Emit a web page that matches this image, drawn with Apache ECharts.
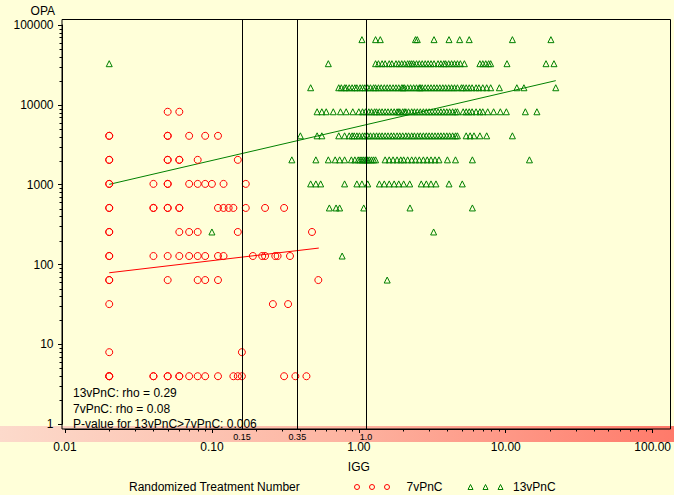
<!DOCTYPE html>
<html><head><meta charset="utf-8">
<script src="https://cdn.jsdelivr.net/npm/echarts@6/dist/echarts.min.js"></script>
<style>html,body{margin:0;padding:0;background:#ffffd9;}#c{width:674px;height:495px;}</style>
</head><body><div id="c"></div>
<script>
// OPA titre levels (y values), shared by the per-level IGG lists below
const opaLevels = [4, 8, 32, 64, 128, 256, 512, 1024, 2048, 4096, 8192, 16384, 32768, 65536];

// 7vPnC: IGG values at each OPA level (same order as opaLevels)
const igg7v = [
  [0.02, 0.02, 0.02, 0.04, 0.04, 0.05, 0.05, 0.06, 0.06, 0.07, 0.08, 0.09, 0.11, 0.14, 0.15, 0.16, 0.31, 0.37, 0.44],
  [0.02, 0.16],
  [0.02, 0.26, 0.33],
  [0.02, 0.02, 0.05, 0.08, 0.09, 0.11, 0.53],
  [0.02, 0.02, 0.04, 0.05, 0.06, 0.07, 0.08, 0.09, 0.11, 0.12, 0.19, 0.22, 0.23, 0.27, 0.28, 0.34],
  [0.02, 0.02, 0.06, 0.07, 0.08, 0.15, 0.48],
  [0.02, 0.02, 0.04, 0.04, 0.05, 0.05, 0.06, 0.06, 0.11, 0.12, 0.13, 0.14, 0.17, 0.23, 0.31],
  [0.02, 0.02, 0.04, 0.05, 0.05, 0.07, 0.08, 0.09, 0.10, 0.12, 0.17],
  [0.02, 0.02, 0.05, 0.05, 0.06, 0.06, 0.08, 0.15],
  [0.02, 0.02, 0.05, 0.05, 0.07, 0.09, 0.11],
  [0.05, 0.06],
  [],
  [],
  []
];

// 13vPnC: IGG values at each OPA level (same order as opaLevels)
const igg13v = [
  [],
  [],
  [],
  [1.56],
  [0.77],
  [0.10, 3.23],
  [0.63, 0.70, 0.74, 1.08, 2.23, 5.93],
  [0.47, 0.51, 0.55, 0.80, 0.97, 1.05, 1.15, 1.38, 1.49, 1.61, 1.74, 1.87, 2.02, 2.22, 2.66, 2.88, 3.10, 3.35, 4.11, 5.06],
  [0.35, 0.51, 0.62, 0.69, 0.74, 0.80, 0.89, 0.94, 0.99, 1.02, 1.05, 1.08, 1.11, 1.13, 1.15, 1.18, 1.22, 1.26, 1.30, 1.51, 1.61, 1.71, 1.82, 1.93, 2.02, 2.15, 2.29, 2.43, 2.58, 2.75, 2.92, 3.10, 3.30, 3.51, 4.01, 4.55, 5.93, 14.5],
  [0.40, 0.52, 0.56, 0.73, 0.80, 0.86, 0.90, 0.93, 0.97, 1.01, 1.06, 1.10, 1.15, 1.20, 1.26, 1.32, 1.38, 1.44, 1.51, 1.58, 1.66, 1.73, 1.82, 1.90, 1.99, 2.09, 2.18, 2.29, 2.39, 2.51, 2.62, 2.75, 2.88, 3.01, 3.15, 3.30, 3.46, 3.62, 3.79, 3.97, 4.15, 4.35, 4.55, 4.69, 5.38, 5.72, 6.08, 6.67, 7.42, 11.1],
  [0.52, 0.56, 0.60, 0.67, 0.75, 0.82, 0.91, 1.00, 1.06, 1.11, 1.17, 1.22, 1.28, 1.32, 1.38, 1.44, 1.51, 1.58, 1.66, 1.74, 1.82, 1.86, 1.90, 1.99, 2.05, 2.09, 2.18, 2.29, 2.39, 2.50, 2.62, 2.75, 2.88, 3.01, 3.15, 3.30, 3.46, 3.62, 3.79, 3.97, 4.15, 4.35, 4.55, 4.69, 5.13, 5.38, 5.64, 5.90, 6.28, 6.67, 6.98, 7.54, 8.27, 9.19, 10.1, 13.6, 16.3],
  [0.47, 0.73, 0.76, 0.80, 0.82, 0.86, 0.90, 0.94, 0.97, 1.02, 1.06, 1.10, 1.15, 1.20, 1.26, 1.30, 1.36, 1.42, 1.49, 1.56, 1.63, 1.71, 1.79, 1.87, 1.96, 2.00, 2.05, 2.15, 2.25, 2.36, 2.47, 2.58, 2.62, 2.70, 2.83, 2.96, 3.10, 3.25, 3.40, 3.56, 3.73, 3.90, 4.09, 4.28, 4.48, 4.69, 4.99, 5.14, 5.38, 5.64, 5.90, 6.28, 6.57, 6.98, 7.42, 7.90, 9.05, 11.9, 13.3, 21.9],
  [0.02, 0.62, 1.30, 1.36, 1.44, 1.51, 1.61, 1.68, 1.79, 1.87, 1.96, 2.05, 2.15, 2.22, 2.29, 2.36, 2.47, 2.58, 2.70, 2.83, 2.96, 3.10, 3.25, 3.46, 3.62, 3.79, 3.90, 4.09, 4.28, 4.48, 4.69, 4.91, 5.23, 6.67, 6.98, 7.31, 7.65, 7.90, 10.2, 18.8, 21.3],
  [1.05, 1.30, 1.40, 2.43, 2.50, 3.25, 4.11, 4.86, 5.64, 11.1, 20.3]
];

// fitted regression lines (log-log), end points
const fit7v = [[0.02, 79], [0.534, 161]];
const fit13v = [[0.02, 1010], [21.9, 20100]];

// reference cut-off lines on IGG
const cutoffValues = [0.15, 0.35, 1.0];
const cutoffLabels = ['0.15', '0.35', '1.0'];

// log-axis minor tick positions
const xMinorTicks = [0.02, 0.03, 0.04, 0.05, 0.06, 0.07, 0.08, 0.09,
                     0.2, 0.3, 0.4, 0.5, 0.6, 0.7, 0.8, 0.9,
                     2, 3, 4, 5, 6, 7, 8, 9,
                     20, 30, 40, 50, 60, 70, 80, 90];
const yMinorTicks = [2, 3, 4, 5, 6, 7, 8, 9,
                     20, 30, 40, 50, 60, 70, 80, 90,
                     200, 300, 400, 500, 600, 700, 800, 900,
                     2000, 3000, 4000, 5000, 6000, 7000, 8000, 9000,
                     20000, 30000, 40000, 50000, 60000, 70000, 80000, 90000];

const annotations = ['13vPnC: rho = 0.29', '7vPnC: rho = 0.08', 'P-value for 13vPnC>7vPnC: 0.006'];
const legendTitle = 'Randomized Treatment Number';
const seriesNames = ['7vPnC', '13vPnC'];
const xName = 'IGG';
const yName = 'OPA';

function toPairs(rows) {
  const out = [];
  rows.forEach((xs, i) => xs.forEach(x => out.push([x, opaLevels[i]])));
  return out;
}

const FONT = "'Liberation Sans', Arial, sans-serif";
const RED = '#ff0000', GREEN = '#008000';
const X_OFF = 4.7, Y_OFF = 3, MINOR_LEN = 2.5;
const circlesIcon = 'path://M0,2.5a2.5,2.5 0 1,0 5,0a2.5,2.5 0 1,0 -5,0M15,2.5a2.5,2.5 0 1,0 5,0a2.5,2.5 0 1,0 -5,0M30,2.5a2.5,2.5 0 1,0 5,0a2.5,2.5 0 1,0 -5,0';
const trianglesIcon = 'path://M2.5,0L5,5L0,5ZM17.5,0L20,5L15,5ZM32.5,0L35,5L30,5Z';
const annTops = [387, 403, 418];

const chart = echarts.init(document.getElementById('c'), null, {renderer: 'svg'});
chart.setOption({
  animation: false,
  backgroundColor: '#ffffd9',
  textStyle: {fontFamily: FONT},
  title: [{text: legendTitle, left: 129, top: 481}]
    .concat(annotations.map((t, i) => ({text: t, left: 73, top: annTops[i]})))
    .map(t => Object.assign(t, {padding: 0, textStyle: {fontSize: 12, fontWeight: 'normal', color: '#000', fontFamily: FONT}})),
  graphic: [{
    type: 'rect', left: 0, top: 426, z: -1, silent: true,
    shape: {width: 674, height: 16},
    style: {fill: new echarts.graphic.LinearGradient(0, 0, 1, 0, [
      {offset: 0, color: '#fcdacb'}, {offset: 0.5, color: '#fdb5a2'}, {offset: 1, color: '#ff7a6a'}])}
  }],
  legend: {
    left: 354, top: 481, padding: 0, itemGap: 25, itemWidth: 35, itemHeight: 5, selectedMode: false,
    textStyle: {fontSize: 12, color: '#000', fontFamily: FONT},
    data: [
      {name: seriesNames[0], icon: circlesIcon, itemStyle: {color: 'rgba(0,0,0,0)', borderColor: RED, borderWidth: 1}, textStyle: {padding: [0, 0, 0, 12]}},
      {name: seriesNames[1], icon: trianglesIcon, itemStyle: {color: 'rgba(0,0,0,0)', borderColor: GREEN, borderWidth: 1}, textStyle: {padding: [0, 0, 0, 5]}}
    ]
  },
  grid: [
    {left: 65, right: 7, top: 25, bottom: 70.7},
    {left: 62, right: 3.5, top: 19.5, bottom: 66, show: true, borderColor: '#000', borderWidth: 1, backgroundColor: 'rgba(0,0,0,0)'}
  ],
  xAxis: [
    {type: 'log', gridIndex: 0, min: 0.01, max: 100, offset: X_OFF,
     axisLine: {show: true, lineStyle: {color: '#000', width: 1}},
     axisTick: {show: true, length: 4, lineStyle: {color: '#000'}},
     minorTick: {show: false},
     splitLine: {show: false},
     axisLabel: {margin: 12, fontSize: 12, color: '#000', fontFamily: FONT, formatter: v => Number(v).toFixed(2)},
     name: xName, nameLocation: 'middle', nameGap: 32, nameTextStyle: {fontSize: 12, color: '#000', fontFamily: FONT}},
    {type: 'log', gridIndex: 1, min: 0.009551, max: 105.5, show: false}
  ],
  yAxis: [
    {type: 'log', gridIndex: 0, min: 1, max: 100000, offset: Y_OFF,
     axisLine: {show: true, lineStyle: {color: '#000', width: 1}},
     axisTick: {show: true, length: 4, lineStyle: {color: '#000'}},
     minorTick: {show: false},
     splitLine: {show: false},
     axisLabel: {margin: 8.5, fontSize: 12, lineHeight: 10, color: '#000', fontFamily: FONT, formatter: v => String(Math.round(v))},
     name: yName, nameLocation: 'end', nameGap: 9.5,
     nameTextStyle: {fontSize: 12, lineHeight: 10, color: '#000', fontFamily: FONT, align: 'right', padding: [0, 7, 0, 0]}},
    {type: 'value', gridIndex: 1, min: 0, max: 1, show: false}
  ],
  series: [
    {name: seriesNames[0], type: 'scatter', xAxisIndex: 0, yAxisIndex: 0, data: toPairs(igg7v),
     symbol: 'circle', symbolSize: 7, z: 4,
     itemStyle: {color: 'rgba(0,0,0,0)', borderColor: RED, borderWidth: 1, opacity: 1}},
    {name: seriesNames[1], type: 'scatter', xAxisIndex: 0, yAxisIndex: 0, data: toPairs(igg13v),
     symbol: 'triangle', symbolSize: 6, z: 4,
     itemStyle: {color: 'rgba(0,0,0,0)', borderColor: GREEN, borderWidth: 1, opacity: 1}},
    {name: 'fit7v', type: 'line', xAxisIndex: 0, yAxisIndex: 0, data: fit7v, symbol: 'none', silent: true, z: 3,
     lineStyle: {color: RED, width: 1}},
    {name: 'fit13v', type: 'line', xAxisIndex: 0, yAxisIndex: 0, data: fit13v, symbol: 'none', silent: true, z: 3,
     lineStyle: {color: GREEN, width: 1}},
    {name: 'xMinor', type: 'custom', xAxisIndex: 0, yAxisIndex: 0, silent: true, clip: false, z: 3,
     data: xMinorTicks.map(v => [v, 1]),
     renderItem: (params, api) => {
       const p = api.coord([api.value(0), api.value(1)]);
       const x = Math.round(p[0]) + 0.5, y = p[1] + X_OFF;
       return {type: 'line', shape: {x1: x, y1: y, x2: x, y2: y + MINOR_LEN}, style: {stroke: '#000', lineWidth: 1}};
     }},
    {name: 'yMinor', type: 'custom', xAxisIndex: 0, yAxisIndex: 0, silent: true, clip: false, z: 3,
     data: yMinorTicks.map(v => [0.01, v]),
     renderItem: (params, api) => {
       const p = api.coord([api.value(0), api.value(1)]);
       const x = p[0] - Y_OFF, y = Math.round(p[1]) + 0.5;
       return {type: 'line', shape: {x1: x, y1: y, x2: x - MINOR_LEN, y2: y}, style: {stroke: '#000', lineWidth: 1}};
     }},
    {name: 'cutoffs', type: 'line', xAxisIndex: 1, yAxisIndex: 1, data: [], silent: true,
     markLine: {silent: true, symbol: 'none', animation: false,
       lineStyle: {color: '#000', width: 1, type: 'solid'},
       label: {show: true, position: 'start', distance: 3, formatter: '{b}', fontSize: 9, color: '#000', fontFamily: FONT},
       data: cutoffValues.map((v, i) => ({xAxis: v, name: cutoffLabels[i]}))}}
  ]
});
</script></body></html>
